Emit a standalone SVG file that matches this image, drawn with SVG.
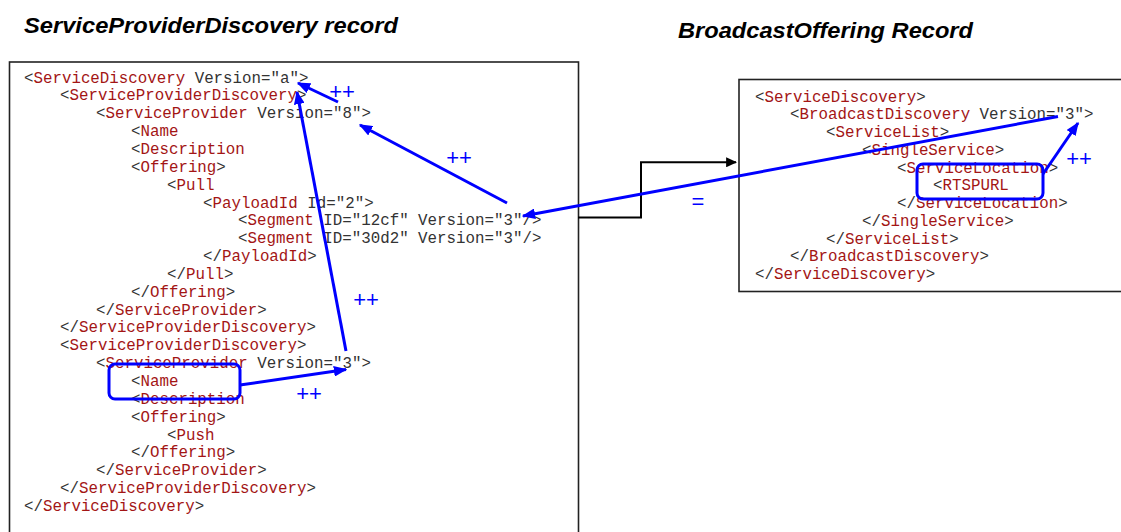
<svg xmlns="http://www.w3.org/2000/svg" width="1121" height="532" viewBox="0 0 1121 532">
<style>
.title{font-family:"Liberation Sans",Arial,sans-serif;font-size:22px;font-weight:bold;font-style:italic;fill:#000}
.code{font-family:"Liberation Mono","Courier New",monospace;font-size:15.8px;fill:#333}
.n{fill:#a31515}
.box{fill:#fff;stroke:#222;stroke-width:1.6}
.blue{fill:none;stroke:#0000ff;stroke-width:3}
.hl{fill:none;stroke:#0000ff;stroke-width:3}
.lbl{font-family:"Liberation Sans",Arial,sans-serif;font-size:22px;fill:#0000ff}
.conn{fill:none;stroke:#000;stroke-width:2}
</style>
<defs>
<marker id="ab" viewBox="0 0 10 10" refX="9" refY="5" markerWidth="4.5" markerHeight="3.6" orient="auto" markerUnits="strokeWidth" preserveAspectRatio="none"><path d="M0,0 L10,5 L0,10 z" fill="#0000ff"/></marker>
<marker id="ak" viewBox="0 0 10 10" refX="9" refY="5" markerWidth="5.5" markerHeight="5" orient="auto" markerUnits="strokeWidth" preserveAspectRatio="none"><path d="M0,0 L10,5 L0,10 z" fill="#000"/></marker>
</defs>
<rect width="1121" height="532" fill="#fff"/>
<text class="title" x="24" y="33" textLength="374" lengthAdjust="spacingAndGlyphs">ServiceProviderDiscovery record</text>
<text class="title" x="678" y="38" textLength="295" lengthAdjust="spacingAndGlyphs">BroadcastOffering Record</text>

<g id="spd-record">
<rect class="box" x="9.5" y="62" width="569" height="490"/>
<text class="code" x="24" y="82.5">&lt;<tspan class="n">ServiceDiscovery</tspan> Version="a"&gt;</text>
<text class="code" x="60" y="100.4">&lt;<tspan class="n">ServiceProviderDiscovery</tspan>&gt;</text>
<text class="code" x="96" y="118.2">&lt;<tspan class="n">ServiceProvider</tspan> Version="8"&gt;</text>
<text class="code" x="131" y="136.1">&lt;<tspan class="n">Name</tspan></text>
<text class="code" x="131" y="153.9">&lt;<tspan class="n">Description</tspan></text>
<text class="code" x="131" y="171.8">&lt;<tspan class="n">Offering</tspan>&gt;</text>
<text class="code" x="167" y="189.6">&lt;<tspan class="n">Pull</tspan></text>
<text class="code" x="203" y="207.5">&lt;<tspan class="n">PayloadId</tspan> Id="2"&gt;</text>
<text class="code" x="238" y="225.3">&lt;<tspan class="n">Segment</tspan> ID="12cf" Version="3"/&gt;</text>
<text class="code" x="238" y="243.2">&lt;<tspan class="n">Segment</tspan> ID="30d2" Version="3"/&gt;</text>
<text class="code" x="203" y="261">&lt;/<tspan class="n">PayloadId</tspan>&gt;</text>
<text class="code" x="167" y="278.9">&lt;/<tspan class="n">Pull</tspan>&gt;</text>
<text class="code" x="131" y="296.7">&lt;/<tspan class="n">Offering</tspan>&gt;</text>
<text class="code" x="96" y="314.6">&lt;/<tspan class="n">ServiceProvider</tspan>&gt;</text>
<text class="code" x="60" y="332.4">&lt;/<tspan class="n">ServiceProviderDiscovery</tspan>&gt;</text>
<text class="code" x="60" y="350.3">&lt;<tspan class="n">ServiceProviderDiscovery</tspan>&gt;</text>
<text class="code" x="96" y="368.1">&lt;<tspan class="n">ServiceProvider</tspan> Version="3"&gt;</text>
<text class="code" x="131" y="386">&lt;<tspan class="n">Name</tspan></text>
<text class="code" x="131" y="403.8">&lt;<tspan class="n">Description</tspan></text>
<text class="code" x="131" y="421.7">&lt;<tspan class="n">Offering</tspan>&gt;</text>
<text class="code" x="167" y="439.5">&lt;<tspan class="n">Push</tspan></text>
<text class="code" x="131" y="457.4">&lt;/<tspan class="n">Offering</tspan>&gt;</text>
<text class="code" x="96" y="475.2">&lt;/<tspan class="n">ServiceProvider</tspan>&gt;</text>
<text class="code" x="60" y="493.1">&lt;/<tspan class="n">ServiceProviderDiscovery</tspan>&gt;</text>
<text class="code" x="24" y="511">&lt;/<tspan class="n">ServiceDiscovery</tspan>&gt;</text>
</g>

<g id="bo-record">
<rect class="box" x="739" y="79.5" width="400" height="212"/>
<text class="code" x="755" y="101.5">&lt;<tspan class="n">ServiceDiscovery</tspan>&gt;</text>
<text class="code" x="790" y="119.3">&lt;<tspan class="n">BroadcastDiscovery</tspan> Version="3"&gt;</text>
<text class="code" x="826" y="137">&lt;<tspan class="n">ServiceList</tspan>&gt;</text>
<text class="code" x="862" y="154.8">&lt;<tspan class="n">SingleService</tspan>&gt;</text>
<text class="code" x="897" y="172.5">&lt;<tspan class="n">ServiceLocation</tspan>&gt;</text>
<text class="code" x="933" y="190.3">&lt;<tspan class="n">RTSPURL</tspan></text>
<text class="code" x="897" y="208">&lt;/<tspan class="n">ServiceLocation</tspan>&gt;</text>
<text class="code" x="862" y="225.8">&lt;/<tspan class="n">SingleService</tspan>&gt;</text>
<text class="code" x="826" y="243.5">&lt;/<tspan class="n">ServiceList</tspan>&gt;</text>
<text class="code" x="790" y="261.3">&lt;/<tspan class="n">BroadcastDiscovery</tspan>&gt;</text>
<text class="code" x="755" y="279">&lt;/<tspan class="n">ServiceDiscovery</tspan>&gt;</text>
</g>

<g id="highlights">
<rect class="hl" x="109" y="364" width="131" height="35" rx="6"/>
<rect class="hl" x="917" y="164" width="126" height="35" rx="6"/>
</g>

<g id="connectors">
<polyline class="conn" points="578,217.5 641,217.5 641,162.3 736,162.3" marker-end="url(#ak)"/>
<line class="blue" x1="338" y1="102" x2="298" y2="83" marker-end="url(#ab)"/>
<line class="blue" x1="507" y1="203" x2="360" y2="125" marker-end="url(#ab)"/>
<line class="blue" x1="346" y1="351" x2="297" y2="92" marker-end="url(#ab)"/>
<line class="blue" x1="240" y1="385" x2="346" y2="369.5" marker-end="url(#ab)"/>
<line class="blue" x1="1058" y1="116.5" x2="523" y2="216" marker-end="url(#ab)"/>
<line class="blue" x1="1043" y1="174" x2="1078" y2="123" marker-end="url(#ab)"/>
<text class="lbl" x="342" y="99" text-anchor="middle">++</text>
<text class="lbl" x="459" y="165" text-anchor="middle">++</text>
<text class="lbl" x="366" y="307" text-anchor="middle">++</text>
<text class="lbl" x="309" y="401" text-anchor="middle">++</text>
<text class="lbl" x="1079" y="166" text-anchor="middle">++</text>
<text class="lbl" x="698" y="209" text-anchor="middle">=</text>
</g>
</svg>
